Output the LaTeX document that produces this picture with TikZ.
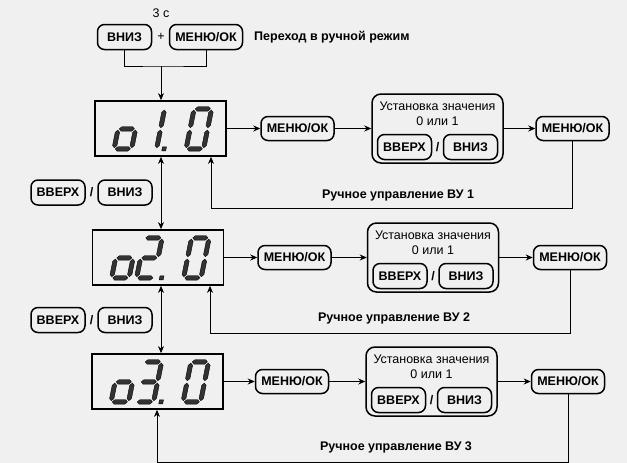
\documentclass[tikz,border=0pt]{standalone}
\usepackage{fontspec}
\setmainfont{Liberation Sans}
\usetikzlibrary{arrows.meta}
\definecolor{bgcol}{HTML}{F0F0F0}

\tikzset{
  btn/.style={draw, rounded corners=7pt, line width=1.5pt, font=\bfseries\fontsize{12.5}{14}\selectfont, minimum width=54pt, minimum height=25pt, inner sep=1pt},
  menubtn/.style={btn, minimum width=73pt, minimum height=24pt},
  disp/.style={draw, line width=1.8pt, minimum width=131pt, minimum height=55pt},
  valbox/.style={draw, rounded corners=9pt, line width=1.5pt, minimum width=131pt, minimum height=69pt},
  txt/.style={font=\fontsize{12.5}{14}\selectfont, inner sep=0pt},
  btxt/.style={font=\bfseries\fontsize{12.5}{14}\selectfont, inner sep=0pt},
  arr/.style={-{Stealth[length=7pt,width=6pt]}, line width=0.8pt},
  darr/.style={{Stealth[length=7pt,width=6pt]}-{Stealth[length=7pt,width=6pt]}, line width=0.8pt},
  seg/.style={fill=black!80, draw=black, line width=0.4pt, line join=round},
}

% seven segment parts
\newcommand{\hseg}[3]{\filldraw[seg] (#1,#3) -- (#1+2.2,#3+2.2) -- (#2-2.2,#3+2.2) -- (#2,#3) -- (#2-2.2,#3-2.2) -- (#1+2.2,#3-2.2) -- cycle;}
\newcommand{\vseg}[3]{\filldraw[seg] (#1,#2) -- (#1+2.2,#2+2.2) -- (#1+2.2,#3-2.2) -- (#1,#3) -- (#1-2.2,#3-2.2) -- (#1-2.2,#2+2.2) -- cycle;}
\newcommand{\sgA}{\hseg{1.2}{16.3}{40}}
\newcommand{\sgB}{\vseg{17.5}{21.2}{38.8}}
\newcommand{\sgC}{\vseg{17.5}{1.2}{18.8}}
\newcommand{\sgD}{\hseg{1.2}{16.3}{0}}
\newcommand{\sgE}{\vseg{0}{1.2}{18.8}}
\newcommand{\sgF}{\vseg{0}{21.2}{38.8}}
\newcommand{\sgG}{\hseg{1.2}{16.3}{20}}
\newcommand{\sgP}{\filldraw[seg] (23,-2) rectangle (27,2);}
\newcommand{\digit}[3]{%
  \begin{scope}[shift={([xshift=#2pt,yshift=8pt]#1.south west)}, xslant=0.2]
    \foreach \s in {#3}{\csname sg\s\endcsname}
  \end{scope}}

\begin{document}
\begin{tikzpicture}[x=1pt,y=1pt]
\path[use as bounding box, fill=bgcol] (0,0) rectangle (627,-463);

\node[txt] (t3s) at (161,-13) {3 с};
\node[btn] (t0d) at (124.5,-37) {ВНИЗ};
\node[txt] (tplus) at (161,-37) {+};
\node[menubtn, minimum height=25pt] (t0m) at (206,-37) {МЕНЮ/ОК};
\node[btxt, anchor=west] (tman) at (254,-37) {Переход в ручной режим};
\coordinate (join) at (161,-66);

\node[disp] (disp1) at (160.5,-128.5) {};
\node[menubtn] (m1a) at (297.5,-128.5) {МЕНЮ/ОК};
\node[valbox] (v1) at (437.5,-128.5) {};
\node[txt] (v1t) at ([yshift=22.5pt]v1.center) {Установка значения};
\node[txt] (v1n) at ([yshift=7.5pt]v1.center) {0 или 1};
\node[btn] (v1u) at ([xshift=-33pt,yshift=-18.5pt]v1.center) {ВВЕРХ};
\node[btxt] (v1s) at ([yshift=-18.5pt]v1.center) {/};
\node[btn] (v1d) at ([xshift=33pt,yshift=-18.5pt]v1.center) {ВНИЗ};
\node[menubtn] (m1b) at (572.5,-128.5) {МЕНЮ/ОК};
\node[btxt] (r1) at (398,-195) {Ручное управление ВУ 1};
\coordinate (fb1) at (211,-208);

\node[btn] (l1u) at (58,-192.5) {ВВЕРХ};
\node[btxt] (l1s) at (91.5,-192.5) {/};
\node[btn] (l1d) at (125,-192.5) {ВНИЗ};

\node[disp] (disp2) at (158,-257.5) {};
\node[menubtn] (m2a) at (294.5,-257.5) {МЕНЮ/ОК};
\node[valbox] (v2) at (433,-257.5) {};
\node[txt] (v2t) at ([yshift=22.5pt]v2.center) {Установка значения};
\node[txt] (v2n) at ([yshift=7.5pt]v2.center) {0 или 1};
\node[btn] (v2u) at ([xshift=-33pt,yshift=-18.5pt]v2.center) {ВВЕРХ};
\node[btxt] (v2s) at ([yshift=-18.5pt]v2.center) {/};
\node[btn] (v2d) at ([xshift=33pt,yshift=-18.5pt]v2.center) {ВНИЗ};
\node[menubtn] (m2b) at (570,-257.5) {МЕНЮ/ОК};
\node[btxt] (r2) at (394,-318) {Ручное управление ВУ 2};
\coordinate (fb2) at (210,-333);

\node[btn] (l2u) at (58,-320) {ВВЕРХ};
\node[btxt] (l2s) at (91.5,-320) {/};
\node[btn] (l2d) at (125,-320) {ВНИЗ};

\node[disp] (disp3) at (157.5,-381.5) {};
\node[menubtn] (m3a) at (292,-381.5) {МЕНЮ/ОК};
\node[valbox] (v3) at (431.5,-381.5) {};
\node[txt] (v3t) at ([yshift=22.5pt]v3.center) {Установка значения};
\node[txt] (v3n) at ([yshift=7.5pt]v3.center) {0 или 1};
\node[btn] (v3u) at ([xshift=-33pt,yshift=-18.5pt]v3.center) {ВВЕРХ};
\node[btxt] (v3s) at ([yshift=-18.5pt]v3.center) {/};
\node[btn] (v3d) at ([xshift=33pt,yshift=-18.5pt]v3.center) {ВНИЗ};
\node[menubtn] (m3b) at (568,-381.5) {МЕНЮ/ОК};
\node[btxt] (r3) at (396,-447) {Ручное управление ВУ 3};
\coordinate (fb3) at (157,-462);

\digit{disp1}{20}{C,D,E,G}
\digit{disp1}{45}{B,C,P}
\digit{disp1}{92}{A,B,C,D,E,F}
\digit{disp2}{20}{C,D,E,G}
\digit{disp2}{45}{A,B,G,E,D,P}
\digit{disp2}{92}{A,B,C,D,E,F}
\digit{disp3}{20}{C,D,E,G}
\digit{disp3}{45}{A,B,G,C,D,P}
\digit{disp3}{92}{A,B,C,D,E,F}

\draw[line width=0.8pt] (t0d.south) |- (join) -| (t0m.south);
\draw[arr] (join) -- (join |- disp1.north);
\draw[darr] (disp1.south -| join) -- (disp2.north -| join);
\draw[darr] (disp2.south -| join) -- (disp3.north -| join);

\draw[arr] (disp1) -- (m1a);
\draw[arr] (m1a) -- (v1);
\draw[arr] (v1) -- (m1b);
\draw[arr] (m1b.south) |- (fb1) -- (fb1 |- disp1.south);
\draw[arr] (disp2) -- (m2a);
\draw[arr] (m2a) -- (v2);
\draw[arr] (v2) -- (m2b);
\draw[arr] (m2b.south) |- (fb2) -- (fb2 |- disp2.south);
\draw[arr] (disp3) -- (m3a);
\draw[arr] (m3a) -- (v3);
\draw[arr] (v3) -- (m3b);
\draw[arr] (m3b.south) |- (fb3) -- (fb3 |- disp3.south);
\end{tikzpicture}
\end{document}
